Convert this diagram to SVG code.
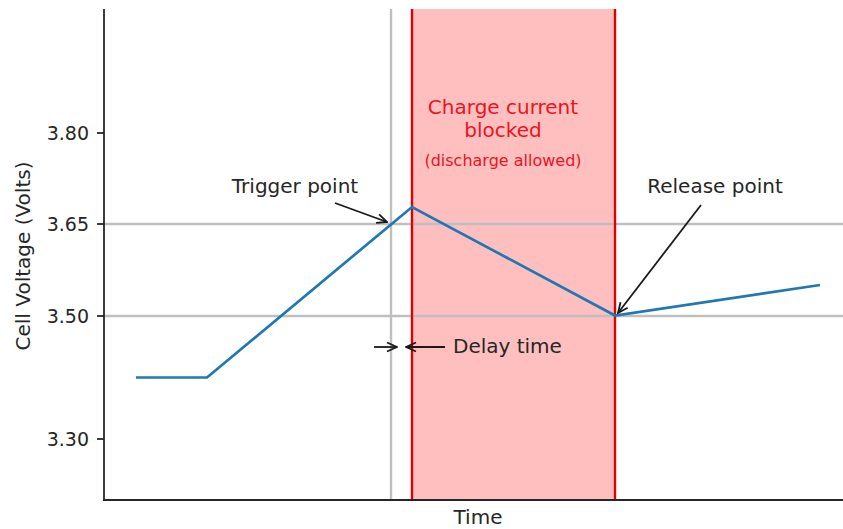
<svg xmlns="http://www.w3.org/2000/svg" width="843" height="529" viewBox="0 0 843 529">
<style>
text{font-family:"DejaVu Sans","Liberation Sans",sans-serif;fill:#262626}
.tick{font-size:19px;text-anchor:end}
.lbl{font-size:20px}
.red{fill:#e8141e;text-anchor:middle}
.grid{stroke:#bfbfbf;stroke-width:2.4;fill:none}
.redl{stroke:#e00000;stroke-width:2.4;fill:none}
.arr{stroke:#1a1a1a;stroke-width:1.8;fill:none;marker-end:url(#ah)}
.axis{stroke:#262626;stroke-width:1.8;fill:none}
</style>
<defs>
<marker id="ah" viewBox="0 0 12 12" refX="11" refY="6" markerWidth="12" markerHeight="12" markerUnits="userSpaceOnUse" orient="auto">
<path d="M1,1.5 L11,6 L1,10.5" fill="none" stroke="#1a1a1a" stroke-width="1.8"/>
</marker>
</defs>
<rect width="843" height="529" fill="#ffffff"/>
<g id="blocked-region">
<rect x="412" y="9" width="203" height="491" fill="#ffbfbf"/>
</g>
<g id="gridlines">
<line class="grid" x1="104" y1="224" x2="843" y2="224"/>
<line class="grid" x1="104" y1="316" x2="843" y2="316"/>
<line class="grid" x1="391" y1="9" x2="391" y2="500"/>
</g>
<g id="red-lines">
<line class="redl" x1="412" y1="9" x2="412" y2="500"/>
<line class="redl" x1="615" y1="9" x2="615" y2="500"/>
</g>
<g id="axes">
<line class="axis" x1="104" y1="9" x2="104" y2="500.9"/>
<line class="axis" x1="103.1" y1="500" x2="843" y2="500"/>
<line class="axis" x1="97" y1="133" x2="104" y2="133"/>
<line class="axis" x1="97" y1="224" x2="104" y2="224"/>
<line class="axis" x1="97" y1="316" x2="104" y2="316"/>
<line class="axis" x1="97" y1="439" x2="104" y2="439"/>
<text class="tick" x="89" y="140">3.80</text>
<text class="tick" x="89" y="231">3.65</text>
<text class="tick" x="89" y="323">3.50</text>
<text class="tick" x="89" y="446">3.30</text>
<text class="lbl" text-anchor="middle" transform="translate(30,256) rotate(-90)">Cell Voltage (Volts)</text>
<text class="lbl" x="478" y="524" text-anchor="middle">Time</text>
</g>
<g id="voltage-curve">
<polyline points="136,377.5 207,377.5 412,207 615,315.5 820,285" fill="none" stroke="#1f77b4" stroke-width="2.7" stroke-linejoin="miter"/>
</g>
<g id="charge-blocked-label">
<text class="lbl red" x="503" y="114">Charge current</text>
<text class="lbl red" x="503" y="137">blocked</text>
<text class="red" x="503" y="166" style="font-size:16px">(discharge allowed)</text>
</g>
<g id="trigger-point">
<text class="lbl" x="295" y="193" text-anchor="middle">Trigger point</text>
</g>
<g id="release-point">
<text class="lbl" x="715" y="193" text-anchor="middle">Release point</text>
</g>
<g id="delay-time">
<text class="lbl" x="453" y="353">Delay time</text>
</g>
<g id="connectors">
<line class="arr" x1="335" y1="203" x2="387" y2="222"/>
<line class="arr" x1="701" y1="205" x2="618" y2="313"/>
<line class="arr" x1="374" y1="347" x2="397" y2="347"/>
<line class="arr" x1="445" y1="347" x2="406" y2="347"/>
</g>
</svg>
